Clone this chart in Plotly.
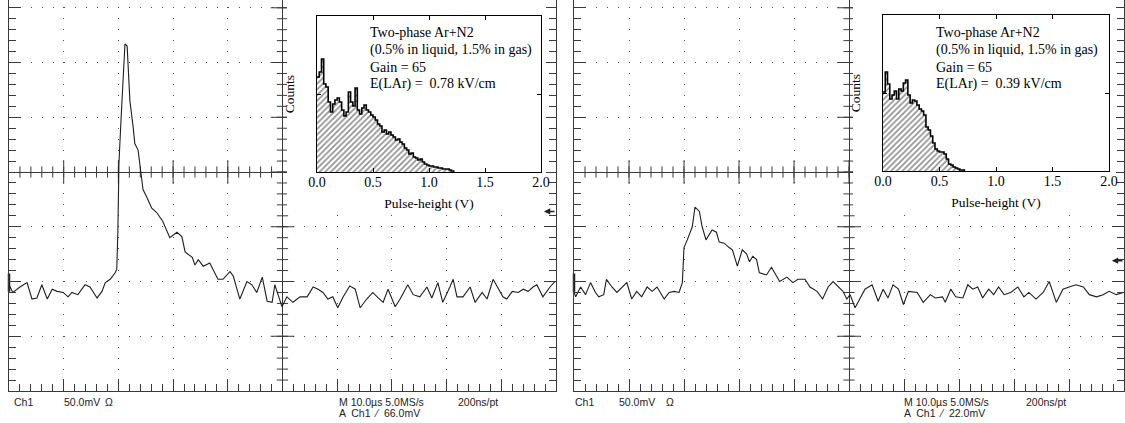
import numpy as np
import plotly.graph_objects as go

W, H = 1125, 423

# ---------------- data ----------------
# Oscilloscope traces: time (us, 10 us/div) and amplitude (mV, 50 mV/div)
t_left = [-50.0, -49.3, -48.0, -46.7, -45.8, -44.9, -44.0, -43.0, -42.1, -41.2,
          -40.1, -39.2, -38.5, -37.4, -36.1, -35.2, -33.9, -33.0, -32.4, -31.5,
          -30.6, -30.3, -30.1, -29.9, -29.5, -29.2, -29.0, -28.8, -28.4, -28.2,
          -27.9, -27.3, -27.0, -26.4, -26.0, -25.5, -24.8, -23.9, -23.0, -21.9,
          -20.6, -19.3, -18.4, -17.8, -16.5, -16.0, -15.4, -14.5, -13.3, -12.7,
          -11.8, -10.9, -9.6, -9.0, -7.8, -6.5, -5.6, -4.7, -3.7, -2.8,
          -1.9, -1.4, -0.1, 0.8, 1.9, 3.2, 4.5, 5.6, 6.5, 7.4,
          8.3, 9.2, 10.1, 11.1, 12.3, 13.3, 14.2, 15.4, 16.5, 17.5,
          18.4, 19.3, 20.6, 21.5, 22.9, 23.9, 25.1, 26.4, 27.3, 28.4,
          29.3, 30.6, 31.2, 31.9, 33.0, 34.3, 35.2, 36.5, 37.4, 38.5,
          39.8, 40.3, 41.0, 42.0, 43.1, 44.0, 44.9, 45.8, 46.5, 47.6,
          48.9, 49.8]
v_left = [-103, -110, -105, -101, -116, -115, -103, -116, -107, -109,
          -110, -114, -110, -112, -103, -105, -115, -109, -101, -98,
          -92, -89, -55, 8, 50, 81, 105, 117, 115, 95,
          65, 41, 26, 20, 2, -16, -23, -33, -37, -45,
          -60, -55, -59, -73, -78, -85, -80, -86, -83, -89,
          -98, -98, -91, -95, -116, -100, -103, -110, -96, -118,
          -119, -103, -123, -114, -119, -114, -114, -105, -107, -110,
          -116, -114, -124, -114, -104, -107, -124, -116, -110, -115,
          -119, -107, -123, -116, -103, -112, -114, -105, -115, -101,
          -119, -105, -98, -114, -114, -105, -119, -110, -116, -98,
          -109, -114, -116, -109, -110, -107, -109, -105, -103, -114,
          -105, -100]

t_right = [-50.0, -49.7, -48.8, -47.9, -47.0, -46.1, -45.5, -44.6, -44.1, -43.1,
           -42.2, -41.3, -40.4, -39.5, -38.6, -37.7, -36.7, -35.8, -34.9, -33.6,
           -32.7, -31.8, -30.9, -30.3, -30.0, -29.4, -28.5, -28.0, -27.2, -26.7,
           -26.0, -24.9, -24.1, -23.6, -22.7, -21.8, -21.2, -20.3, -19.4, -18.6,
           -18.1, -17.5, -16.8, -16.3, -15.0, -14.1, -13.5, -12.6, -11.3, -10.2,
           -9.3, -8.0, -7.1, -5.8, -4.8, -3.8, -2.9, -2.0, -1.1, -0.4,
           0.2, 1.1, 2.0, 2.9, 4.2, 5.3, 6.2, 7.1, 8.0, 9.0,
           9.9, 10.8, 12.4, 13.5, 14.8, 15.7, 17.0, 17.5, 18.5, 19.4,
           20.7, 21.6, 22.5, 23.4, 24.3, 25.4, 26.3, 27.2, 28.2, 29.4,
           30.7, 31.8, 32.7, 34.0, 35.3, 36.4, 37.7, 38.9, 40.0, 41.3,
           42.6, 43.7, 45.0, 46.2, 47.3, 48.6, 49.9]
v_right = [-109, -114, -105, -112, -101, -110, -114, -112, -98, -105,
           -110, -105, -101, -116, -109, -114, -105, -109, -105, -116,
           -110, -109, -110, -101, -69, -62, -50, -32, -36, -50,
           -62, -53, -55, -64, -65, -69, -71, -86, -71, -75,
           -82, -77, -80, -92, -94, -87, -92, -100, -96, -101,
           -98, -98, -105, -109, -116, -105, -100, -105, -109, -116,
           -112, -124, -116, -107, -103, -118, -107, -115, -103, -107,
           -121, -109, -110, -119, -112, -115, -114, -119, -107, -114,
           -115, -103, -107, -105, -115, -107, -112, -105, -112, -110,
           -105, -114, -110, -116, -110, -100, -119, -107, -105, -103,
           -105, -112, -114, -112, -109, -112, -110]

ground_level_mv = [-101, -101]       # channel ground marker (left edge)
trigger_level_mv = [-36, -81]        # trigger-level arrow (right edge)

# Pulse-height spectra (insets): 0.02 V bins starting at 0 V, counts (arb.)
hist_bin_v = 0.02
counts_left = [95, 100, 113, 88, 85, 70, 60, 68, 72, 74,
               70, 62, 56, 60, 80, 70, 66, 84, 62, 58,
               64, 67, 62, 60, 57, 55, 52, 48, 46, 40,
               42, 38, 40, 37, 35, 32, 33, 30, 28, 24,
               22, 18, 19, 15, 14, 12, 13, 10, 8, 7,
               6, 6, 5, 5, 4, 4, 3, 3, 3, 2, 1]
counts_right = [79, 99, 87, 72, 76, 80, 72, 82, 80, 88,
                91, 76, 68, 71, 70, 66, 62, 60, 56, 44,
                41, 35, 28, 22, 20, 19, 19, 17, 12, 7,
                6, 4, 3, 2, 1, 1]
hist_ticks = [0.0, 0.5, 1.0, 1.5, 2.0]

inset_lines = ["Two-phase Ar+N2", "(0.5% in liquid, 1.5% in gas)", "Gain = 65"]
field_values = ["0.78", "0.39"]
trigger_labels = ["66.0mV", "22.0mV"]

# ---------------- geometry / style ----------------
def fx(p):
    return p / W


def fy(p):
    return 1 - p / H


T_MIN, T_MAX = -50.0, 50.0
V_MIN, V_MAX = -200.0, 157.1
SCOPE_TOP, SCOPE_BOTTOM = 0, 391
scope_x_px = [(9, 556), (574, 1124)]
cover_x_px = [(287, 546), (853, 1116)]
cover_y_px = (0, 209)
inset_x_px = [(317, 541), (883, 1109)]
inset_y_px = [(16, 172), (15, 171)]
inset_text_x = [369, 935]
inset_text_y = [32, 50, 67, 84]

FRAME = "#3a3a3a"
GRID = "#505050"
TRACE = "#1e1e1e"
SERIF = "Liberation Serif"
SANS = "Liberation Sans"

fig = go.Figure()
layout = dict(width=W, height=H, margin=dict(l=0, r=0, t=0, b=0, pad=0, autoexpand=False),
              paper_bgcolor="white", plot_bgcolor="white", showlegend=False)

traces_t = [t_left, t_right]
traces_v = [v_left, v_right]
counts_all = [counts_left, counts_right]

# ---- scope panels (axes 1,2) ----
for i, (x0, x1) in enumerate(scope_x_px):
    n = i + 1
    sfx = "" if n == 1 else str(n)
    sx = (x1 - x0) / 50.0
    ppm = (SCOPE_BOTTOM - SCOPE_TOP) / (V_MAX - V_MIN)
    sy = 10 * ppm
    off = (V_MAX * ppm) % sy
    hdash = f"1px,{sx - 1:.2f}px"
    vdash = f"0px,{max(off - 0.5, 0):.2f}px," + ",".join([f"1px,{sy - 1:.2f}px"] * 40)
    layout["xaxis" + sfx] = dict(
        domain=[fx(x0), fx(x1)], range=[T_MIN, T_MAX], anchor="y" + sfx,
        showgrid=True, gridcolor=GRID, gridwidth=1, griddash=vdash,
        zeroline=True, zerolinecolor=FRAME, zerolinewidth=1,
        showline=True, linecolor=FRAME, linewidth=1, mirror=False,
        ticks="inside", ticklen=12, tickwidth=1, tickcolor=FRAME, dtick=10, tick0=0,
        minor=dict(dtick=2, ticks="inside", ticklen=7, tickwidth=1, tickcolor=FRAME, showgrid=False),
        showticklabels=False, fixedrange=True, automargin=False)
    layout["yaxis" + sfx] = dict(
        domain=[fy(SCOPE_BOTTOM), fy(SCOPE_TOP)], range=[V_MIN, V_MAX], anchor="x" + sfx,
        showgrid=True, gridcolor=GRID, gridwidth=1, griddash=hdash,
        zeroline=True, zerolinecolor=FRAME, zerolinewidth=1,
        showline=True, linecolor=FRAME, linewidth=1, mirror="ticks",
        ticks="inside", ticklen=12, tickwidth=1, tickcolor=FRAME, dtick=50, tick0=0,
        minor=dict(dtick=10, ticks="inside", ticklen=7, tickwidth=1, tickcolor=FRAME, showgrid=False),
        showticklabels=False, fixedrange=True, automargin=False)

    xa, ya = "x" + sfx, "y" + sfx
    # crosshair graticule ticks
    minor_t = np.arange(T_MIN + 2, T_MAX, 2)
    major_t = np.arange(T_MIN + 10, T_MAX, 10)
    minor_v = np.arange(-190, V_MAX, 10)
    major_v = np.arange(-150, V_MAX, 50)
    for xs_, ys_, sym, size in [(minor_t, np.zeros_like(minor_t), "line-ns", 8),
                                (major_t, np.zeros_like(major_t), "line-ns", 17),
                                (np.zeros_like(minor_v), minor_v, "line-ew", 8),
                                (np.zeros_like(major_v), major_v, "line-ew", 17)]:
        fig.add_trace(go.Scatter(x=xs_, y=ys_, mode="markers", xaxis=xa, yaxis=ya,
                                 marker=dict(symbol=sym, size=size, color=FRAME,
                                             line=dict(width=1, color=FRAME)),
                                 hoverinfo="skip"))
    # waveform
    fig.add_trace(go.Scatter(x=traces_t[i], y=traces_v[i], mode="lines", xaxis=xa, yaxis=ya,
                             line=dict(color=TRACE, width=1.1), name="Ch1"))
    # ground marker
    fig.add_trace(go.Scatter(x=[T_MIN], y=[ground_level_mv[i]], mode="markers", xaxis=xa, yaxis=ya,
                             cliponaxis=False,
                             marker=dict(symbol="line-ns", size=13, color=TRACE,
                                         line=dict(width=2.5, color=TRACE)),
                             hoverinfo="skip"))

# ---- white covers behind the insets (axes 3,4) ----
for i, (x0, x1) in enumerate(cover_x_px):
    n = i + 3
    layout[f"xaxis{n}"] = dict(domain=[fx(x0), fx(x1)], range=[0, 1], anchor=f"y{n}", visible=False, fixedrange=True)
    layout[f"yaxis{n}"] = dict(domain=[fy(cover_y_px[1]), fy(cover_y_px[0])], range=[0, 1], anchor=f"x{n}",
                               visible=False, fixedrange=True)
    fig.add_trace(go.Scatter(x=[None], y=[None], xaxis=f"x{n}", yaxis=f"y{n}", hoverinfo="skip"))

# ---- inset histograms (axes 5,6) ----
annotations = []
for i in range(2):
    n = i + 5
    ix0, ix1 = inset_x_px[i]
    iy0, iy1 = inset_y_px[i]
    layout[f"xaxis{n}"] = dict(
        domain=[fx(ix0), fx(ix1)], range=[0, 2.0], anchor=f"y{n}",
        showline=True, linecolor="black", linewidth=1, mirror="ticks",
        ticks="inside", ticklen=4, tickcolor="black", tickvals=hist_ticks, tickformat=".1f",
        tickfont=dict(family=SERIF, size=14, color="black"), ticklabelstandoff=-3,
        showgrid=False, zeroline=False, fixedrange=True, automargin=False,
        title=dict(text="Pulse-height (V)", font=dict(family=SERIF, size=13.5, color="black"), standoff=9))
    layout[f"yaxis{n}"] = dict(
        domain=[fy(iy1), fy(iy0)], range=[0, 156], anchor=f"x{n}",
        showline=True, linecolor="black", linewidth=1, mirror="ticks",
        ticks="inside", ticklen=4, tickcolor="black", dtick=78, showticklabels=False,
        showgrid=False, zeroline=False, fixedrange=True, automargin=False,
        title=dict(text="Counts", font=dict(family=SERIF, size=13.5, color="black"), standoff=18))
    c = counts_all[i]
    edges = np.arange(len(c) + 1) * hist_bin_v
    fig.add_trace(go.Scatter(
        x=edges, y=list(c) + [0], mode="lines", xaxis=f"x{n}", yaxis=f"y{n}",
        line=dict(shape="hv", color="black", width=1.6),
        fill="tozeroy", fillcolor="white",
        fillpattern=dict(shape="/", fgcolor="#1e1e1e", bgcolor="white", size=4, solidity=0.4),
        name="spectrum"))
    lines = inset_lines + [f"E(LAr) =&nbsp; {field_values[i]} kV/cm"]
    for line_text, ly in zip(lines, inset_text_y):
        annotations.append(dict(xref="paper", yref="paper", x=fx(inset_text_x[i]), y=fy(ly),
                                xanchor="left", yanchor="middle", align="left", showarrow=False,
                                borderpad=0, text=line_text,
                                font=dict(family=SERIF, size=14, color="black")))

# ---- scope status text ----
status = [
    ("Ch1", 13, 402), ("50.0mV", 63, 402), ("Ω", 104, 402),
    ("M 10.0µs 5.0MS/s", 338, 402), ("200ns/pt", 457, 402),
    ("A  Ch1  ⁄  " + trigger_labels[0], 338, 413),
    ("Ch1", 574, 402), ("50.0mV", 618, 402), ("Ω", 665, 402),
    ("M 10.0µs 5.0MS/s", 903, 402), ("200ns/pt", 1025, 402),
    ("A  Ch1  ⁄  " + trigger_labels[1], 903, 413),
]
for txt, px, py in status:
    annotations.append(dict(xref="paper", yref="paper", x=fx(px), y=fy(py), xanchor="left",
                            yanchor="middle", showarrow=False, text=txt, borderpad=0,
                            font=dict(family=SANS, size=10.5, color="#222222")))

# trigger-level arrows on the right edge of each screen
for i in range(2):
    sfx = "" if i == 0 else "2"
    annotations.append(dict(xref="x" + sfx, yref="y" + sfx, x=47.8, y=trigger_level_mv[i],
                            ax=12, ay=0, showarrow=True, arrowhead=2, arrowsize=0.9,
                            arrowwidth=1.4, arrowcolor="#222222", text=""))

layout["annotations"] = annotations
fig.update_layout(**layout)
fig.write_html("out.html")
